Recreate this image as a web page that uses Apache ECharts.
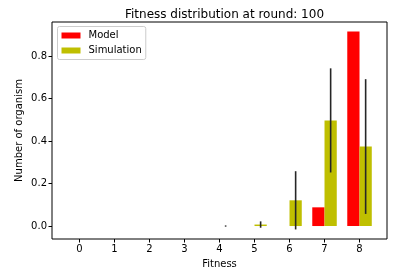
<!DOCTYPE html>
<html><head><meta charset="utf-8">
<script src="https://cdn.jsdelivr.net/npm/echarts@6/dist/echarts.min.js"></script>
<style>html,body{margin:0;padding:0;background:#fff}#c{width:400px;height:277px}</style>
</head><body><div id="c"></div>
<script>
var fitness = [0, 1, 2, 3, 4, 5, 6, 7, 8];
var modelValues = [0, 0, 0, 0, 0, 0, 0, 0.088, 0.915];
var simValues = [0, 0, 0, 0, 0, 0.007, 0.121, 0.497, 0.374];
var simErrors = [0, 0, 0, 0, 0.003, 0.015, 0.137, 0.245, 0.317];
var yTicks = [0, 0.2, 0.4, 0.6, 0.8];
var BAR_W = 0.35;
var FONT = 'DejaVu Sans';

function barRender(offset) {
  return function (params, api) {
    var x = api.value(0), v = api.value(1);
    var p0 = api.coord([x + offset - BAR_W / 2, v]);
    var p1 = api.coord([x + offset + BAR_W / 2, 0]);
    return {
      type: 'rect',
      shape: { x: p0[0], y: Math.min(p0[1], p1[1]), width: p1[0] - p0[0], height: Math.abs(p1[1] - p0[1]) },
      style: { fill: api.visual('color') }
    };
  };
}

var modelData = fitness.map(function (f, i) { return [f, modelValues[i]]; });
var simData = fitness.map(function (f, i) { return [f, simValues[i]]; });
var errData = fitness.map(function (f, i) { return [f, simValues[i], simErrors[i]]; });

var chart = echarts.init(document.getElementById('c'), null, { renderer: 'canvas' });
chart.setOption({
  animation: false,
  textStyle: { fontFamily: FONT },
  title: {
    text: 'Fitness distribution at round: 100',
    left: 219.5, textAlign: 'center', top: 4,
    textStyle: { fontFamily: FONT, fontSize: 12, fontWeight: 'normal', color: '#000' }
  },
  legend: {
    orient: 'vertical', left: 57.5, top: 26.5,
    data: [{ name: 'Model', icon: 'rect' }, { name: 'Simulation', icon: 'rect' }],
    itemWidth: 19, itemHeight: 6, itemGap: 3,
    padding: [3, 4, 3, 4],
    borderColor: '#ccc', borderWidth: 1, borderRadius: 2,
    backgroundColor: 'rgba(255,255,255,0.8)',
    textStyle: { fontFamily: FONT, fontSize: 10, color: '#000', lineHeight: 12, padding: [0, 0, 0, 3] }
  },
  grid: { left: 52, right: 13, top: 22, bottom: 38, show: true, borderColor: '#000', borderWidth: 1, backgroundColor: 'transparent' },
  xAxis: {
    type: 'value', min: -0.785, max: 8.785,
    name: 'Fitness', nameLocation: 'middle', nameGap: 20, nameMoveOverlap: false,
    nameTextStyle: { fontFamily: FONT, fontSize: 10, color: '#000' },
    axisLine: { show: false, onZero: false },
    splitLine: { show: false },
    axisTick: { show: true, length: 3.5, lineStyle: { color: '#000' }, customValues: fitness },
    axisLabel: { fontFamily: FONT, fontSize: 10, color: '#000', margin: 5, customValues: fitness, formatter: function (v) { return String(v); } }
  },
  yAxis: {
    type: 'value', min: -0.061, max: 0.96,
    name: 'Number of organism', nameLocation: 'middle', nameGap: 28, nameMoveOverlap: false,
    nameTextStyle: { fontFamily: FONT, fontSize: 10, color: '#000' },
    axisLine: { show: false, onZero: false },
    splitLine: { show: false },
    axisTick: { show: true, length: 3.5, lineStyle: { color: '#000' }, customValues: yTicks },
    axisLabel: { fontFamily: FONT, fontSize: 10, color: '#000', margin: 5, customValues: yTicks, formatter: function (v) { return v.toFixed(1); } }
  },
  series: [
    { name: 'Model', type: 'custom', itemStyle: { color: '#ff0000' }, renderItem: barRender(-BAR_W / 2), data: modelData, encode: { x: 0, y: 1 } },
    { name: 'Simulation', type: 'custom', itemStyle: { color: '#bfbf00' }, renderItem: barRender(BAR_W / 2), data: simData, encode: { x: 0, y: 1 } },
    {
      name: 'err', type: 'custom', itemStyle: { color: '#262626' },
      renderItem: function (params, api) {
        var x = api.value(0) + BAR_W / 2, v = api.value(1), e = api.value(2);
        var a = api.coord([x, v + e]), b = api.coord([x, v - e]);
        return { type: 'line', shape: { x1: a[0], y1: a[1], x2: b[0], y2: b[1] }, style: { stroke: '#262626', lineWidth: 1.6 } };
      },
      data: errData, encode: { x: 0, y: [1, 2] }, z: 5
    }
  ]
});
</script></body></html>
